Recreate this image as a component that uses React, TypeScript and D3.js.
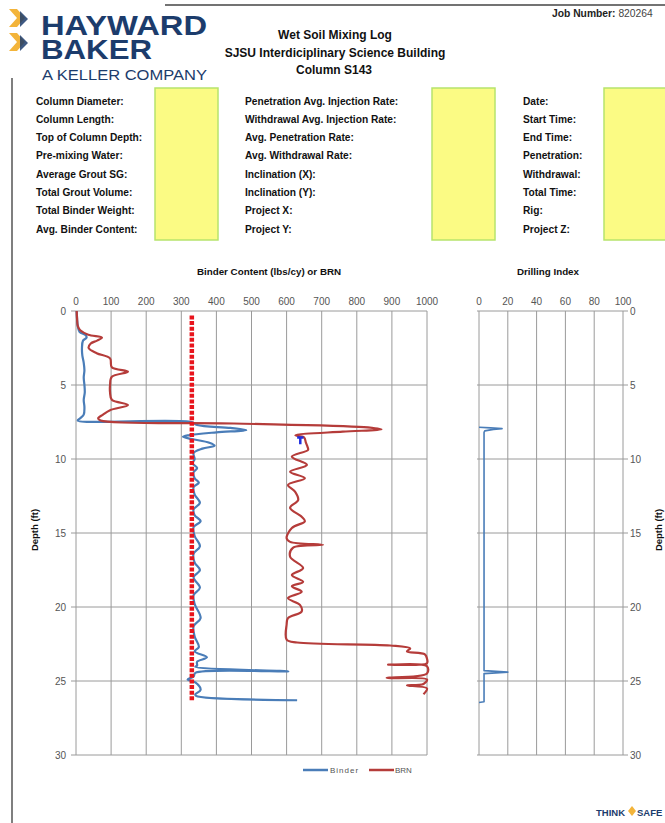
import React from "react";
import * as d3 from "d3";

// ---------- data ----------
const binderDepth = [0, 0.5, 1.0, 1.4, 1.65, 1.8, 2.0, 2.5, 3.0, 3.5, 4.0, 4.5, 5.0, 5.5, 6.0, 6.5, 7.0, 7.25, 7.4, 7.5, 7.7, 7.9, 8.05, 8.2, 8.4, 8.5, 8.65, 8.9, 9.1, 9.3, 9.6, 10.0, 10.3, 10.6, 10.9, 11.3, 11.6, 11.9, 12.4, 12.97, 13.4, 13.8, 14.2, 14.6, 15.2, 15.9, 16.4, 17.0, 17.5, 18.0, 18.7, 19.2, 19.8, 20.75, 21.3, 22.0, 22.7, 23.0, 23.4, 23.7, 23.95, 24.05, 24.35, 24.45, 24.7, 24.9, 25.1, 25.6, 25.9, 26.0, 26.3];
const binderValue = [2, 3, 5, 10, 28, 30, 20, 17, 18, 22, 24, 22, 24, 25, 22, 24, 22, 12, 5, 330, 345, 440, 485, 400, 320, 305, 330, 380, 395, 360, 335, 338, 332, 345, 335, 338, 350, 335, 338, 353, 335, 338, 355, 335, 338, 353, 335, 338, 353, 335, 353, 335, 338, 355, 335, 338, 350, 338, 373, 345, 345, 340, 605, 340, 335, 318, 340, 355, 340, 342, 630];

const brnDepth = [0, 0.5, 1.0, 1.3, 1.6, 1.8, 2.0, 2.2, 2.5, 2.85, 3.2, 3.8, 4.1, 4.45, 5.0, 5.5, 6.0, 6.35, 6.7, 7.0, 7.25, 7.4, 7.6, 7.85, 8.0, 8.15, 8.4, 8.55, 8.9, 9.2, 9.39, 9.84, 10.4, 10.86, 11.3, 11.75, 12.2, 12.77, 13.3, 13.9, 14.2, 14.66, 15.35, 15.6, 15.8, 16.0, 16.6, 17.37, 17.84, 18.3, 18.6, 18.97, 19.4, 19.86, 20.3, 20.75, 21.2, 22.2, 22.4, 22.6, 22.8, 23.0, 23.2, 23.5, 23.8, 23.9, 24.0, 24.5, 24.8, 24.9, 25.2, 25.3, 25.5, 25.9];
const brnValue = [2, 3, 5, 12, 35, 74, 60, 42, 36, 59, 97, 102, 148, 102, 97, 97, 102, 148, 97, 77, 63, 70, 450, 820, 870, 760, 625, 650, 655, 660, 661, 615, 658, 610, 652, 604, 624, 633, 610, 643, 652, 615, 600, 610, 704, 618, 610, 647, 615, 647, 615, 643, 604, 638, 643, 604, 600, 600, 630, 895, 952, 943, 994, 1000, 1000, 889, 1000, 1000, 885, 1000, 990, 943, 1000, 990];

const targetDepth = [0.3, 26.4];
const targetValue = [330, 330];

const markerDepth = [8.55, 8.55, 8.55, 9.0];
const markerValue = [630, 648, 639, 639];

const diDepth = [7.85, 7.9, 7.95, 8.0, 8.1, 8.2, 24.3, 24.4, 24.5, 26.4, 26.45];
const diValue = [0, 8, 16, 10, 4, 3.5, 3.5, 20, 3.5, 3.5, 0];

const mainTicks = [0, 100, 200, 300, 400, 500, 600, 700, 800, 900, 1000];
const diTicks = [0, 20, 40, 60, 80, 100];
const depthTicks = [0, 5, 10, 15, 20, 25, 30];

const col1Labels = ["Column Diameter:", "Column Length:", "Top of Column Depth:", "Pre-mixing Water:", "Average Grout SG:", "Total Grout Volume:", "Total Binder Weight:", "Avg. Binder Content:"];
const col2Labels = ["Penetration Avg. Injection Rate:", "Withdrawal Avg. Injection Rate:", "Avg. Penetration Rate:", "Avg. Withdrawal Rate:", "Inclination (X):", "Inclination (Y):", "Project X:", "Project Y:"];
const col3Labels = ["Date:", "Start Time:", "End Time:", "Penetration:", "Withdrawal:", "Total Time:", "Rig:", "Project Z:"];

// ---------- component ----------
const FONT = "'Liberation Sans', Arial, sans-serif";
const NAVY = "#1c3c6c";
const GOLD = "#f3b43a";

export default function App() {
  const x = d3.scaleLinear().domain([0, 1000]).range([76, 427]);
  const y = d3.scaleLinear().domain([0, 30]).range([311, 755]);
  const xd = d3.scaleLinear().domain([0, 100]).range([479, 623]);

  const smooth = (xs: d3.ScaleLinear<number, number>) =>
    d3
      .line<[number, number]>()
      .x((p) => xs(Math.min(p[1], xs.domain()[1])))
      .y((p) => y(p[0]))
      .curve(d3.curveCatmullRom.alpha(0.5));
  const straight = (xs: d3.ScaleLinear<number, number>) =>
    d3
      .line<[number, number]>()
      .x((p) => xs(p[1]))
      .y((p) => y(p[0]));

  const zip = (a: number[], b: number[]) => a.map((d, i) => [d, b[i]] as [number, number]);

  const binderPath = smooth(x)(zip(binderDepth, binderValue)) || "";
  const brnPath = smooth(x)(zip(brnDepth, brnValue)) || "";
  const targetPath = straight(x)(zip(targetDepth, targetValue)) || "";
  const markerPath = straight(x)(zip(markerDepth, markerValue)) || "";
  const diPath = straight(xd)(zip(diDepth, diValue)) || "";

  const rowY = (i: number) => 104.5 + i * 18.3;
  const grid = "#9a9a9a";
  const tickFill = "#555";

  return (
    <svg
      width={665}
      height={823}
      style={{ position: "absolute", left: 0, top: 0, background: "#fff" }}
      fontFamily={FONT}
    >
      <rect width={665} height={823} fill="#fff" />
      {/* frame lines */}
      <line x1={165} x2={665} y1={5} y2={5} stroke="#444" strokeWidth={1.5} />
      <line x1={12} x2={12} y1={78} y2={823} stroke="#555" strokeWidth={1.5} />

      {/* logo */}
      <g>
        <polygon points="9,9 17,9 25,18 17,27 9,27 17,18" fill={GOLD} />
        <polygon points="20,11 28,19 20,27" fill={NAVY} opacity={0.85} />
        <polygon points="9,33 17,33 25,42 17,51 9,51 17,42" fill={GOLD} />
        <polygon points="20,35 28,43 20,51" fill={NAVY} opacity={0.85} />
      </g>
      <text fontSize={28} fontWeight={900} fill={NAVY}>
        <tspan x={41} y={35} textLength={166} lengthAdjust="spacingAndGlyphs">HAYWARD</tspan>
        <tspan x={41} y={59} textLength={111} lengthAdjust="spacingAndGlyphs">BAKER</tspan>
      </text>
      <text x={42} y={80} fontSize={15.5} fill={NAVY} textLength={165} lengthAdjust="spacingAndGlyphs">A KELLER COMPANY</text>

      {/* title */}
      <g fontWeight="bold" fontSize={12} textAnchor="middle" fill="#111">
        <text x={335} y={39}>Wet Soil Mixing Log</text>
        <text x={335} y={57}>SJSU Interdiciplinary Science Building</text>
        <text x={334} y={74}>Column S143</text>
      </g>
      <text x={552} y={17} fontSize={10.3} fontWeight="bold" fill="#222">
        Job Number: <tspan fontWeight="normal" fill="#444">820264</tspan>
      </text>

      {/* info table */}
      {[155, 432, 604].map((bx, i) => (
        <rect key={i} x={bx} y={88} width={i === 2 ? 64 : 63} height={152} fill="#fbfb84" stroke="#b7e46c" strokeWidth={1.5} />
      ))}
      <g fontSize={10.2} fontWeight="bold" fill="#111">
        {col1Labels.map((t, i) => (
          <text key={"a" + i} x={36} y={rowY(i)}>{t}</text>
        ))}
        {col2Labels.map((t, i) => (
          <text key={"b" + i} x={245} y={rowY(i)}>{t}</text>
        ))}
        {col3Labels.map((t, i) => (
          <text key={"c" + i} x={523} y={rowY(i)}>{t}</text>
        ))}
      </g>

      {/* chart titles */}
      <text x={269} y={275} fontSize={9.8} fontWeight="bold" textAnchor="middle" fill="#111">Binder Content (lbs/cy) or BRN</text>
      <text x={548} y={275} fontSize={9.8} fontWeight="bold" textAnchor="middle" fill="#111">Drilling Index</text>

      {/* main grid */}
      <g stroke={grid} strokeWidth={1}>
        {mainTicks.map((t) => (
          <line key={"v" + t} x1={x(t)} x2={x(t)} y1={y(0)} y2={y(30)} />
        ))}
        {depthTicks.map((t) => (
          <line key={"h" + t} x1={x(0) - 5} x2={x(1000)} y1={y(t)} y2={y(t)} />
        ))}
      </g>
      <g fontSize={10} fill={tickFill}>
        {mainTicks.map((t) => (
          <text key={t} x={x(t)} y={305} textAnchor="middle">{t}</text>
        ))}
        {depthTicks.map((t) => (
          <text key={t} x={66} y={y(t) + 3.5} textAnchor="end">{t}</text>
        ))}
      </g>

      {/* DI grid */}
      <g stroke={grid} strokeWidth={1}>
        {diTicks.map((t) => (
          <line key={"dv" + t} x1={xd(t)} x2={xd(t)} y1={y(0)} y2={y(30)} />
        ))}
        {depthTicks.map((t) => (
          <line key={"dh" + t} x1={xd(0) - 2} x2={xd(100) + 5} y1={y(t)} y2={y(t)} />
        ))}
      </g>
      <g fontSize={10} fill={tickFill}>
        {diTicks.map((t) => (
          <text key={t} x={xd(t)} y={305} textAnchor="middle">{t}</text>
        ))}
        {depthTicks.map((t) => (
          <text key={t} x={630} y={y(t) + 3.5} textAnchor="start">{t}</text>
        ))}
      </g>

      {/* axis titles */}
      <text transform="translate(38,530) rotate(-90)" fontSize={9.5} fontWeight="bold" textAnchor="middle" fill="#111">Depth (ft)</text>
      <text transform="translate(662,530) rotate(-90)" fontSize={9.5} fontWeight="bold" textAnchor="middle" fill="#111">Depth (ft)</text>

      {/* series */}
      <path d={binderPath} fill="none" stroke="#4a7db8" strokeWidth={2.2} strokeLinejoin="round" />
      <path d={brnPath} fill="none" stroke="#b53c3a" strokeWidth={2.2} strokeLinejoin="round" />
      <path d={targetPath} fill="none" stroke="#e8141c" strokeWidth={4.5} strokeDasharray="4,1.6" />
      <path d={markerPath} fill="none" stroke="#1f2fe0" strokeWidth={2.5} />
      <path d={diPath} fill="none" stroke="#4a7db8" strokeWidth={1.6} strokeLinejoin="round" />

      {/* legend */}
      <line x1={303} x2={328} y1={770} y2={770} stroke="#4a7db8" strokeWidth={2.5} />
      <text x={330} y={773} fontSize={8} fill="#555" letterSpacing={1}>Binder</text>
      <line x1={369} x2={394} y1={770} y2={770} stroke="#b53c3a" strokeWidth={2.5} />
      <text x={395} y={773} fontSize={8} fill="#555">BRN</text>

      {/* think safe */}
      <text x={596} y={816} fontSize={9.5} fontWeight={900} fill={NAVY}>THINK</text>
      <polygon points="632,806 636,811 632,816 628,811" fill={GOLD} />
      <text x={637} y={816} fontSize={9.5} fontWeight={900} fill={NAVY}>SAFE</text>
    </svg>
  );
}
